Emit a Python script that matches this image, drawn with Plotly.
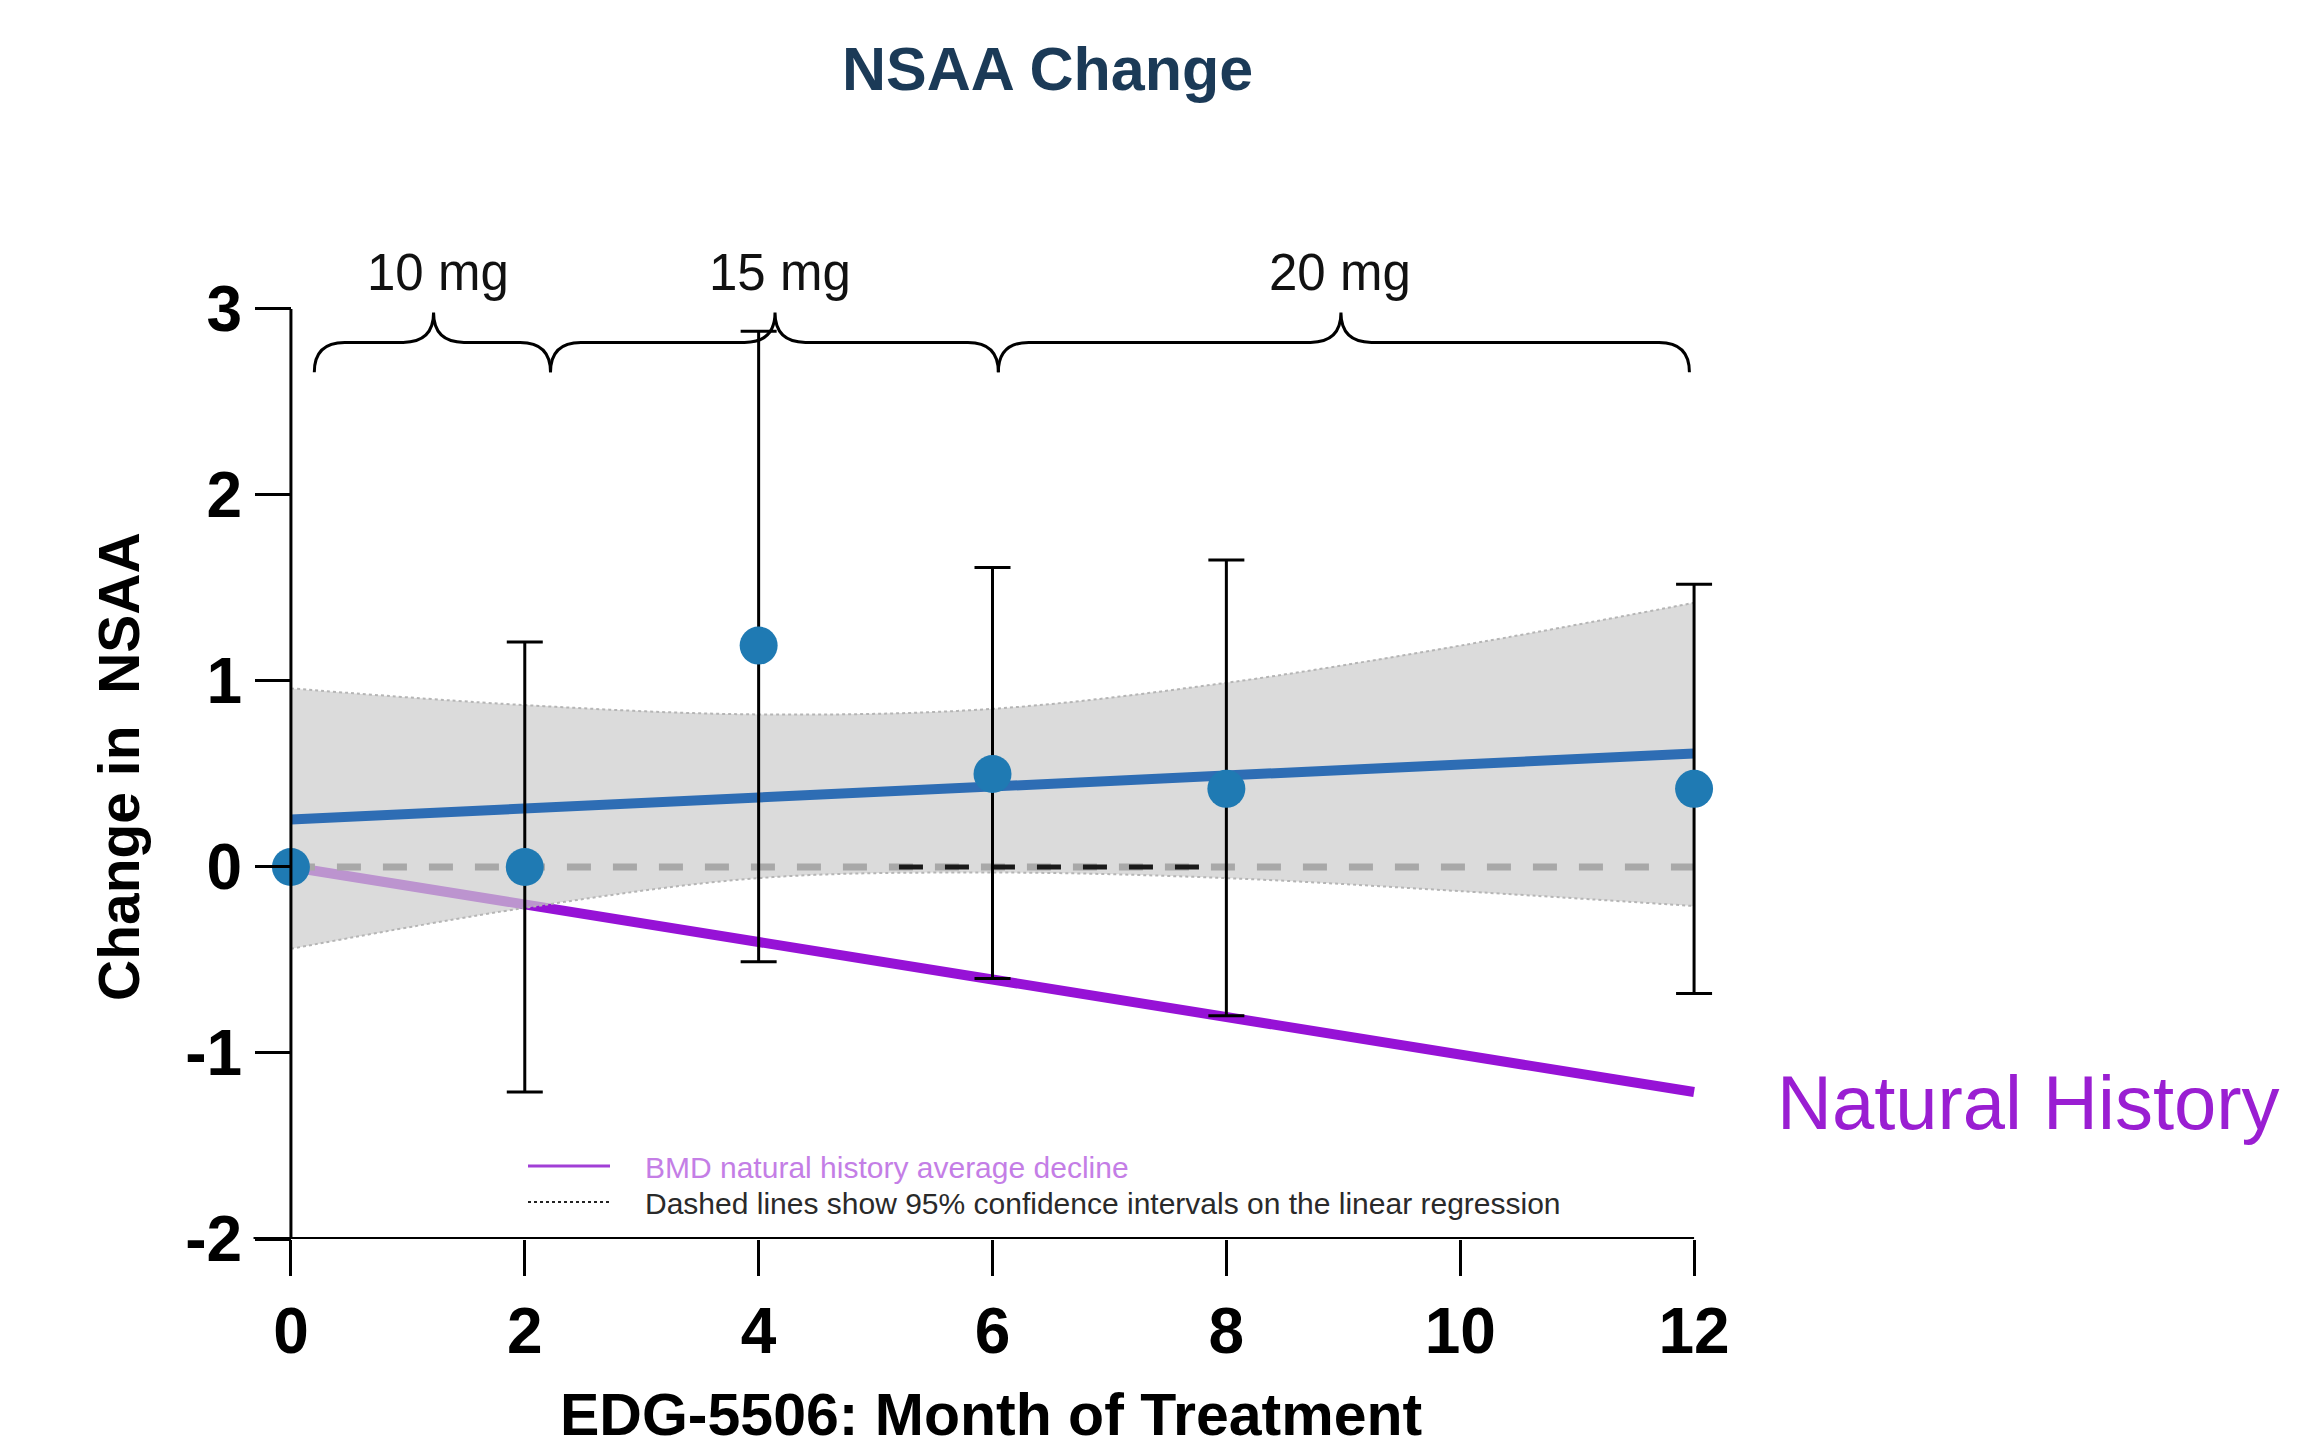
import plotly.graph_objects as go

# ---------------- data ----------------
months = [0, 2, 4, 6, 8, 12]
nsaa_change = [0.0, 0.0, 1.19, 0.50, 0.42, 0.42]
bar_top = [0.0, 1.21, 2.88, 1.61, 1.65, 1.52]
bar_bottom = [0.0, -1.21, -0.51, -0.60, -0.80, -0.68]

fit_months = [0, 12]
fit_values = [0.255, 0.61]

band_months = [0, 2, 4, 6, 8, 10, 12]
band_upper = [0.96, 0.87, 0.82, 0.85, 0.99, 1.19, 1.42]
band_lower = [-0.44, -0.22, -0.06, -0.03, -0.06, -0.13, -0.21]

nh_months = [0, 12]
nh_values = [0.0, -1.21]

dose_labels = ["10 mg", "15 mg", "20 mg"]
dose_start = [0.20, 2.22, 6.05]
dose_end = [2.22, 6.05, 11.96]
dose_mid = [1.22, 4.14, 8.98]
dose_label_x = [1.26, 4.18, 8.97]

x_ticks = [0, 2, 4, 6, 8, 10, 12]
y_ticks = [-2, -1, 0, 1, 2, 3]

# ---------------- layout geometry ----------------
OFF = 8  # default page body margin
W, H = 2305 - 2 * OFF, 1451 - 2 * OFF
ML = 250 - OFF
MT = 281 - OFF
MR = W - (1735 - OFF)
MB = H - (1239 - OFF)
PW, PH = W - ML - MR, H - MT - MB
XR = [-0.35, 12.35]
YR = [-2.0, 3.15]


def px(xpage):
    return (xpage - OFF - ML) / PW


def py(ypage):
    return (H - MB - (ypage - OFF)) / PH


FONT = "Arial, Liberation Sans, sans-serif"
BLUE_M = "#1f7ab3"
BLUE_L = "#2e6db4"
PURPLE = "#9612d6"

fig = go.Figure()

# natural history line (beneath the translucent band)
fig.add_trace(go.Scatter(x=nh_months, y=nh_values, mode="lines",
                         line=dict(color=PURPLE, width=10), hoverinfo="skip"))

# confidence band
fig.add_trace(go.Scatter(x=band_months, y=band_lower, mode="lines",
                         line=dict(color="#b5b5b5", width=2, dash="dot", shape="spline"),
                         hoverinfo="skip"))
fig.add_trace(go.Scatter(x=band_months, y=band_upper, mode="lines",
                         line=dict(color="#b5b5b5", width=2, dash="dot", shape="spline"),
                         fill="tonexty", fillcolor="rgba(204,204,204,0.70)",
                         hoverinfo="skip"))

# zero reference dashed line
fig.add_trace(go.Scatter(x=[0, 12], y=[0, 0], mode="lines",
                         line=dict(color="#a8a8a8", width=7, dash="24px,22px"),
                         hoverinfo="skip"))
fig.add_trace(go.Scatter(x=[5.2, 7.95], y=[0, 0], mode="lines",
                         line=dict(color="#1a1a1a", width=5, dash="24px,22px"),
                         hoverinfo="skip"))

# regression line
fig.add_trace(go.Scatter(x=fit_months, y=fit_values, mode="lines",
                         line=dict(color=BLUE_L, width=10), hoverinfo="skip"))

# data points with asymmetric error bars
err_plus = [t - v for t, v in zip(bar_top, nsaa_change)]
err_minus = [v - b for b, v in zip(bar_bottom, nsaa_change)]
fig.add_trace(go.Scatter(
    x=months, y=nsaa_change, mode="markers",
    marker=dict(color=BLUE_M, size=38),
    error_y=dict(type="data", symmetric=False, array=err_plus, arrayminus=err_minus,
                 color="black", thickness=3, width=18),
    cliponaxis=False))

shapes = []
# axis lines
shapes.append(dict(type="line", xref="x", yref="y", x0=0, x1=0, y0=-2, y1=3,
                   line=dict(color="black", width=3)))
shapes.append(dict(type="line", xref="x", yref="y", x0=-0.32, x1=12, y0=-2, y1=-2,
                   line=dict(color="black", width=4)))

# dose braces
yb, ytip, yend, r = 2.82, 2.98, 2.66, 0.26
for s, e, m in zip(dose_start, dose_end, dose_mid):
    path = (f"M {s},{yend} Q {s},{yb} {s + r},{yb} L {m - r},{yb} "
            f"Q {m},{yb} {m},{ytip} Q {m},{yb} {m + r},{yb} "
            f"L {e - r},{yb} Q {e},{yb} {e},{yend}")
    shapes.append(dict(type="path", xref="x", yref="y", path=path,
                       line=dict(color="black", width=3)))

# legend sample lines
shapes.append(dict(type="line", xref="paper", yref="paper", x0=px(528), x1=px(610),
                   y0=py(1166), y1=py(1166), line=dict(color="#a13fd6", width=3)))
shapes.append(dict(type="line", xref="paper", yref="paper", x0=px(528), x1=px(610),
                   y0=py(1202), y1=py(1202), line=dict(color="#222222", width=2, dash="dot")))

annotations = []
for lab, m in zip(dose_labels, dose_label_x):
    annotations.append(dict(text=lab, x=m, xref="x", y=py(272), yref="paper",
                            showarrow=False, xanchor="center", yanchor="middle",
                            font=dict(family=FONT, size=51, color="#111111")))

annotations += [
    dict(text="NSAA Change", x=px(1047), y=py(69), xref="paper", yref="paper",
         showarrow=False, xanchor="center", yanchor="middle",
         font=dict(family=FONT, size=61, color="#1b3a57", weight="bold")),
    dict(text="EDG-5506: Month of Treatment", x=px(991), y=py(1415), xref="paper", yref="paper",
         showarrow=False, xanchor="center", yanchor="middle",
         font=dict(family=FONT, size=59, color="black", weight="bold")),
    dict(text="Change in  NSAA", x=px(119), y=py(767), xref="paper", yref="paper",
         showarrow=False, xanchor="center", yanchor="middle", textangle=-90,
         font=dict(family=FONT, size=57, color="black", weight="bold")),
    dict(text="Natural History", x=px(1775), y=py(1102), xref="paper", yref="paper",
         showarrow=False, xanchor="left", yanchor="middle",
         font=dict(family=FONT, size=76, color="#9a1ed2")),
    dict(text="BMD natural history average decline", x=px(643), y=py(1167),
         xref="paper", yref="paper", showarrow=False, xanchor="left", yanchor="middle",
         font=dict(family=FONT, size=30, color="#c47ee6")),
    dict(text="Dashed lines show 95% confidence intervals on the linear regression",
         x=px(643), y=py(1203), xref="paper", yref="paper", showarrow=False,
         xanchor="left", yanchor="middle",
         font=dict(family=FONT, size=30, color="#2a2a2a")),
]

fig.update_layout(
    width=W, height=H,
    margin=dict(l=ML, r=MR, t=MT, b=MB, autoexpand=False),
    paper_bgcolor="white", plot_bgcolor="white",
    showlegend=False,
    shapes=shapes, annotations=annotations,
    xaxis=dict(range=XR, tickvals=x_ticks, ticktext=[str(v) for v in x_ticks],
               ticks="outside", ticklen=36, tickwidth=3, tickcolor="black",
               showline=False, showgrid=False, zeroline=False,
               tickfont=dict(family=FONT, size=64, color="black", weight="bold")),
    yaxis=dict(range=YR, tickvals=y_ticks, ticktext=[str(v) for v in y_ticks],
               anchor="free", position=(0 - XR[0]) / (XR[1] - XR[0]),
               ticks="outside", ticklen=36, tickwidth=3, tickcolor="black",
               showline=False, showgrid=False, zeroline=False,
               tickfont=dict(family=FONT, size=64, color="black", weight="bold")),
)

fig.write_html("out.html")
